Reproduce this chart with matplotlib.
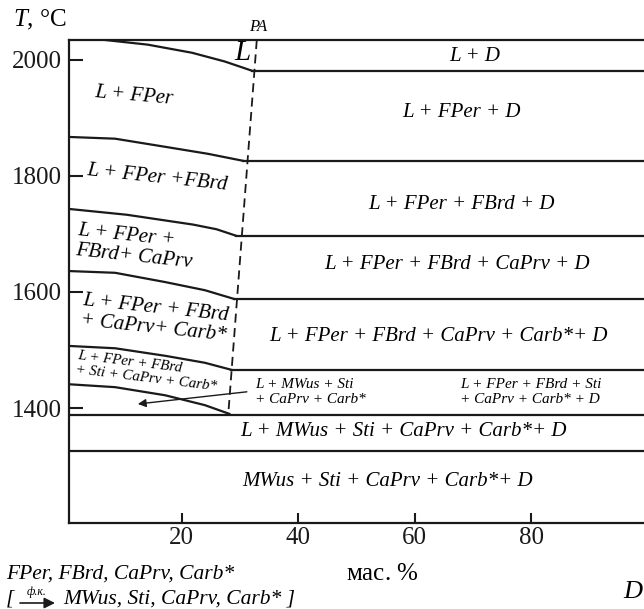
import numpy as np
import matplotlib.pyplot as plt

plt.rcParams['font.family'] = ['Liberation Serif', 'DejaVu Serif']
plt.rcParams['mathtext.fontset'] = 'custom'
plt.rcParams['mathtext.rm'] = 'Liberation Serif'
plt.rcParams['mathtext.it'] = 'Liberation Serif:italic'

# phase boundaries right of the PA line (T, start x)
right_T = [1981, 1826, 1697, 1588, 1466]
right_x0 = [32.1, 30.5, 29.3, 29.0, 28.5]
# subsolidus lines across the whole diagram
full_T = [1388, 1326]

curve_x = [[6.9, 14.2, 21.8, 27.4, 32.1],
           [0.7, 8.6, 17.2, 24.5, 30.5],
           [0.7, 10.6, 22.0, 26.0, 29.3],
           [0.7, 8.6, 17.2, 24.0, 29.0],
           [0.7, 8.6, 17.2, 24.0, 28.5],
           [0.7, 8.6, 17.2, 24.0, 28.2]]
curve_T = [[2034, 2026, 2012, 1997, 1981],
           [1867, 1864, 1850, 1838, 1826],
           [1743, 1733, 1716, 1708, 1697],
           [1636, 1633, 1617, 1603, 1588],
           [1507, 1503, 1490, 1478, 1466],
           [1441, 1436, 1422, 1405, 1390]]

# PA section (dashed)
pa_x = [32.9, 28.0]
pa_T = [2034, 1388]

xticks = [20, 40, 60, 80]
yticks = [1400, 1600, 1800, 2000]

# phase field labels: (x, T, text, size)
right_labels = [
    (70.3, 2005, "L + D", 15),
    (68.0, 1909, "L + FPer + D", 15),
    (68.0, 1750, "L + FPer + FBrd + D", 15),
    (67.3, 1647, "L + FPer + FBrd + CaPrv + D", 15),
    (64.0, 1524, "L + FPer + FBrd + CaPrv + Carb*+ D", 15),
    (58.0, 1360, "L + MWus + Sti + CaPrv + Carb*+ D", 15),
    (55.4, 1274, "MWus + Sti + CaPrv + Carb*+ D", 15),
]
small_labels = [
    (32.6, 1428, "L + MWus + Sti\n+ CaPrv + Carb*"),
    (67.8, 1428, "L + FPer + FBrd + Sti\n+ CaPrv + Carb* + D"),
]
left_labels = [
    (11.8, 1938, "L + FPer", 15, -5),
    (15.8, 1797, "L + FPer +FBrd", 15, -6),
    (12.0, 1678, "L + FPer +\nFBrd+ CaPrv", 15, -6),
    (15.4, 1555, "L + FPer + FBrd\n+ CaPrv+ Carb*", 15, -6),
    (14.1, 1464, "L + FPer + FBrd\n+ Sti + CaPrv + Carb*", 10.8, -7),
]

fig = plt.figure(figsize=(6.44, 6.09), dpi=100)
ax = fig.add_axes([69/644, 1 - 523/609, 1 - 69/644, (523 - 40)/609])

for T, x0 in zip(right_T, right_x0):
    ax.plot([x0, 100], [T, T], color='#1a1a1a', lw=1.6)
for T in full_T:
    ax.plot([0, 100], [T, T], color='#1a1a1a', lw=1.6)
for xs, Ts in zip(curve_x, curve_T):
    ax.plot(xs, Ts, color='#1a1a1a', lw=1.6, solid_joinstyle='round')
ax.plot(pa_x, pa_T, color='#1a1a1a', lw=1.3, linestyle=(0, (5, 3)))

ax.annotate("", xy=(12.5, 1407), xytext=(31.2, 1428),
            arrowprops=dict(arrowstyle='-|>', color='#1a1a1a', lw=1.0,
                            mutation_scale=12, shrinkA=0, shrinkB=0))

for x, T, s, fs in right_labels:
    ax.text(x, T, s, ha='center', va='center', style='italic', fontsize=fs)
for x, T, s in small_labels:
    ax.text(x, T, s, ha='left', va='center', style='italic', fontsize=11,
            linespacing=1.15)
for x, T, s, fs, rot in left_labels:
    ax.text(x, T, s, ha='center', va='center', style='italic', fontsize=fs,
            rotation=rot, rotation_mode='anchor', multialignment='left',
            linespacing=1.1)
ax.text(30.5, 2012, "L", ha='center', va='center', style='italic', fontsize=21)

ax.set_xlim(0.7, 99.3)
ax.set_ylim(1202, 2034)
ax.set_xticks(xticks)
ax.set_yticks(yticks)
ax.tick_params(axis='both', direction='in', width=1.5, labelsize=18, colors='#1a1a1a')
ax.tick_params(axis='y', length=10, pad=5)
ax.tick_params(axis='x', length=7, pad=3)
ax.spines['right'].set_visible(False)
for side in ['left', 'bottom', 'top']:
    ax.spines[side].set_linewidth(1.6)
    ax.spines[side].set_color('#1a1a1a')

fig.text(13/644, 1 - 20/609, "$T$, °C", fontsize=18, va='center', ha='left')
fig.text(258/644, 1 - 27/609, "PA", fontsize=12, style='italic', va='center', ha='center')
fig.text(382/644, 1 - 574/609, r"мас. $\%$", fontsize=18, va='center', ha='center')
fig.text(633/644, 1 - 592/609, "D", fontsize=19, style='italic', va='center', ha='center')

fig.text(6/644, 1 - 574/609, "FPer, FBrd, CaPrv, Carb*", fontsize=15.5,
         style='italic', va='center', ha='left')
fig.text(6/644, 1 - 599/609, "[", fontsize=15.5, style='italic', va='center', ha='left')
fig.text(37/644, 1 - 592/609, "ф.к.", fontsize=8.5, style='italic', va='center', ha='center')
ax.annotate("", xy=(55/644, 1 - 603/609), xytext=(20/644, 1 - 603/609),
            xycoords='figure fraction', textcoords='figure fraction',
            arrowprops=dict(arrowstyle='-|>', color='#1a1a1a', lw=1.2,
                            mutation_scale=16, shrinkA=0, shrinkB=0))
fig.text(63/644, 1 - 599/609, "MWus, Sti, CaPrv, Carb* ]", fontsize=15.5,
         style='italic', va='center', ha='left')

fig.savefig("out.png", dpi=100)
